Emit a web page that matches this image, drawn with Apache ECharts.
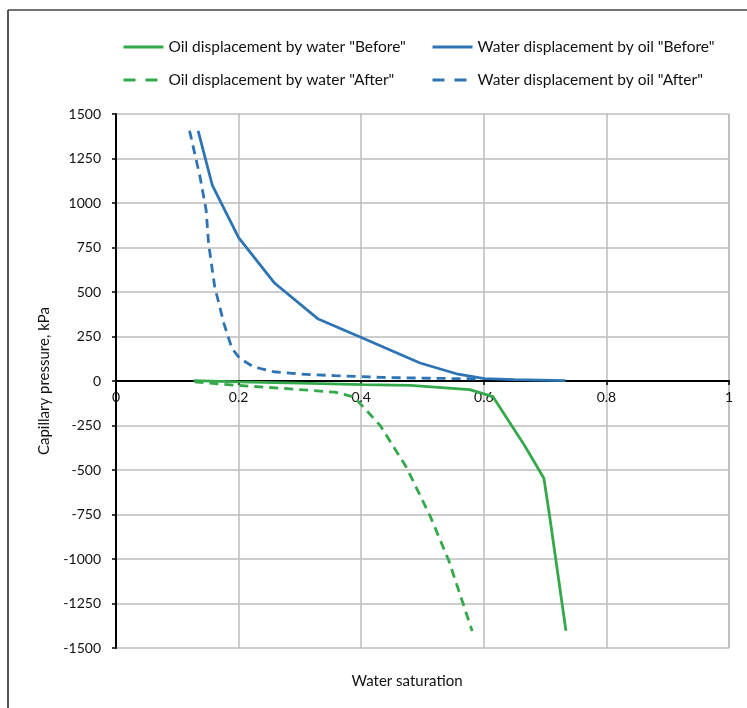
<!DOCTYPE html>
<html><head><meta charset="utf-8">
<script src="https://cdn.jsdelivr.net/npm/echarts@6/dist/echarts.min.js"></script>
<style>html,body{margin:0;padding:0;background:#fff}#c{width:747px;height:708px}</style>
</head><body><div id="c"></div>
<script>
const seriesNames = ['Oil displacement by water "Before"','Water displacement by oil "Before"','Oil displacement by water "After"','Water displacement by oil "After"'];
const oilBeforeX = [0.127,0.2,0.3,0.403,0.48,0.577,0.615,0.667,0.698,0.707,0.734];
const oilBeforeY = [2,-5,-12,-20,-25,-48,-88,-365,-546,-750,-1403];
const waterBeforeX = [0.134,0.157,0.2,0.259,0.329,0.403,0.496,0.558,0.601,0.65,0.733];
const waterBeforeY = [1405,1101,806,549,350,240,101,38,13,8,2];
const oilAfterX = [0.128,0.2,0.279,0.357,0.388,0.405,0.431,0.473,0.512,0.543,0.581];
const oilAfterY = [-5,-25,-43,-63,-89,-152,-250,-480,-755,-1010,-1405];
const waterAfterX = [0.12,0.137,0.147,0.151,0.161,0.176,0.189,0.202,0.224,0.257,0.3,0.357,0.434,0.52,0.589];
const waterAfterY = [1406,1148,961,773,530,324,184,127,80,52,39,30,20,15,12];

const GREEN = '#33a94b', BLUE = '#2e74b5';
const font = 'Lato, "Open Sans", sans-serif';
const TXT = '#111';
const zip = (xs, ys) => xs.map((x, i) => [x, ys[i]]);

const chart = echarts.init(document.getElementById('c'), null, {renderer:'canvas'});
function mk(name, data, color, dashed) {
  return {name, type:'line', data, symbol:'none', smooth:false, z: 5,
    lineStyle:{color, width:2.8, type: dashed ? [9,6] : 'solid'}, itemStyle:{color}};
}
function legItem(i, color, dashed) {
  return {name: seriesNames[i], itemStyle:{opacity:0, borderWidth:0},
    lineStyle:{color, width:3, type: dashed ? [12,10] : 'solid'}};
}
const legendCommon = {orient:'vertical', itemWidth:40, itemHeight:14, itemGap:17, padding:0,
  textStyle:{fontFamily:font, fontSize:15.5, color:TXT}};
chart.setOption({
  animation:false,
  backgroundColor:'#fff',
  legend:[
    Object.assign({}, legendCommon, {left:122, top:39, data:[legItem(0, GREEN, false), legItem(2, GREEN, true)]}),
    Object.assign({}, legendCommon, {left:431, top:39, data:[legItem(1, BLUE, false), legItem(3, BLUE, true)]})
  ],
  grid:{left:116, right:18, top:114, bottom:60, containLabel:false},
  xAxis:{type:'value', min:0, max:1, interval:0.2, position:'bottom', offset:-267,
    axisLine:{onZero:false, lineStyle:{color:'#000', width:2}},
    axisTick:{show:true, length:4, inside:false, lineStyle:{color:'#000', width:1.5}},
    axisLabel:{fontFamily:font, fontSize:14, color:TXT, margin:9,
      formatter: v => String(Math.round(v*10)/10)},
    splitLine:{show:true, lineStyle:{color:'#bdbdbd', width:1.5}}},
  yAxis:{type:'value', min:-1500, max:1500, interval:250,
    name:'Capillary pressure, kPa', nameLocation:'middle', nameGap:64,
    nameTextStyle:{fontFamily:font, fontSize:15, color:TXT},
    axisLine:{show:true, onZero:false, lineStyle:{color:'#000', width:2}},
    axisTick:{show:true, length:4, lineStyle:{color:'#000', width:1.5}},
    axisLabel:{fontFamily:font, fontSize:14, color:TXT, margin:15, formatter: v => String(v)},
    splitLine:{show:true, lineStyle:{color:'#bdbdbd', width:1.5}}},
  graphic:[
    {type:'text', x:407, y:681, style:{text:'Water saturation', font:'15px ' + font, fill:TXT, align:'center', verticalAlign:'middle'}},
    {type:'line', shape:{x1:8, y1:10, x2:8, y2:708}, style:{stroke:'#555', lineWidth:2}},
    {type:'line', shape:{x1:8, y1:10, x2:747, y2:10}, style:{stroke:'#444', lineWidth:1.5}},
    {type:'line', shape:{x1:729, y1:114, x2:729, y2:648}, style:{stroke:'#bdbdbd', lineWidth:1.5}, z:-1}
  ],
  series:[
    mk(seriesNames[0], zip(oilBeforeX, oilBeforeY), GREEN, false),
    mk(seriesNames[1], zip(waterBeforeX, waterBeforeY), BLUE, false),
    mk(seriesNames[2], zip(oilAfterX, oilAfterY), GREEN, true),
    mk(seriesNames[3], zip(waterAfterX, waterAfterY), BLUE, true)
  ]
});
</script></body></html>
